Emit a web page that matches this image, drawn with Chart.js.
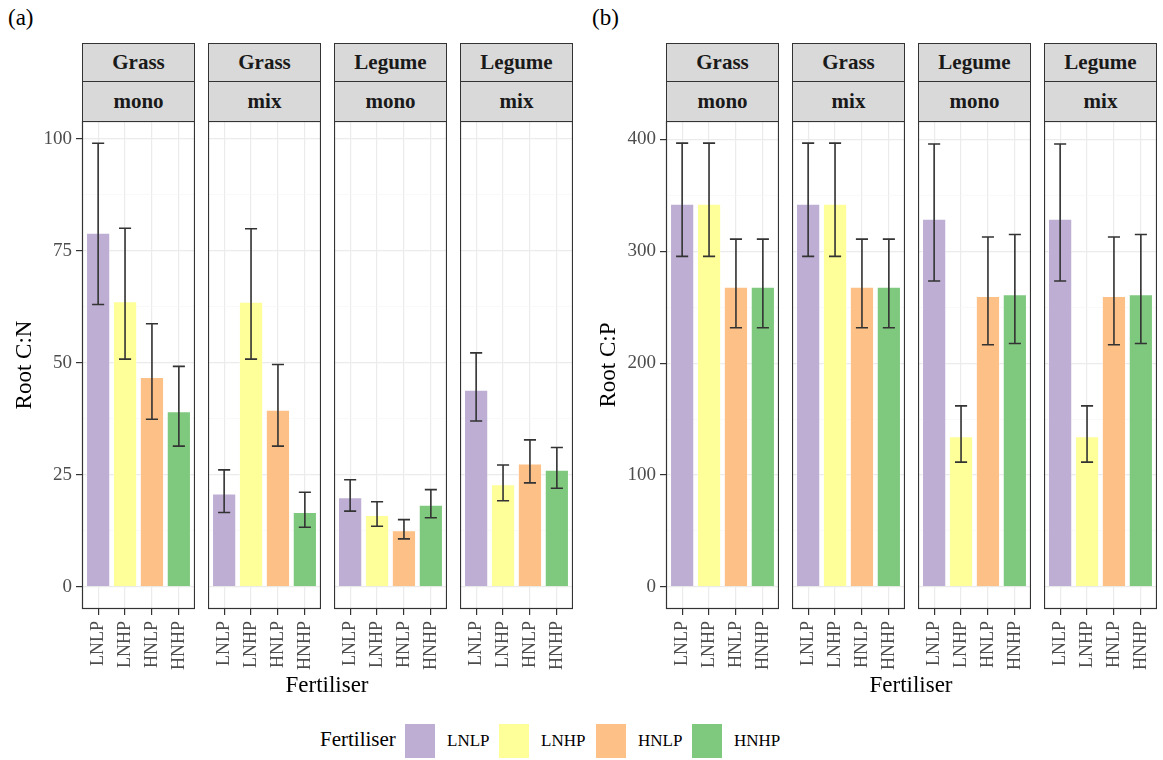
<!DOCTYPE html>
<html>
<head>
<meta charset="utf-8">
<title>Root C:N and C:P by fertiliser</title>
<script src="https://cdn.jsdelivr.net/npm/chart.js@4.4.1/dist/chart.umd.min.js"></script>
<style>
    body { margin: 0; background: #fff; font-family: 'Liberation Serif', 'Times New Roman', serif; }
    #page { position: relative; width: 1163px; height: 760px; overflow: hidden; }
    .strip { position: absolute; box-sizing: border-box; background: #d9d9d9; border: 1px solid #333;
             font-family: 'Liberation Serif', serif; font-weight: bold; font-size: 21px; color: #1a1a1a; text-align: center; }
    .facet { position: absolute; }
    .label { position: absolute; color: #000; white-space: nowrap; }
    .ytitle { position: absolute; width: 200px; text-align: center; font-size: 23px; transform: rotate(-90deg); }
    .key { position: absolute; width: 30px; height: 34px; }
</style>
</head>
<body>
<div id="page"></div>
<script>
// Fertiliser levels (x categories) and facet strips
const fertiliser = ['LNLP', 'LNHP', 'HNLP', 'HNHP'];
const fertColours = ['#BEAED4', '#FFFF99', '#FDC086', '#7FC97F'];
const stripSpecies = ['Grass', 'Grass', 'Legume', 'Legume'];
const stripCulture = ['mono', 'mix', 'mono', 'mix'];

// Root C:N - means and error bar limits per facet
const cnGrassMono = [79.0, 63.7, 46.8, 39.2];
const cnGrassMonoLo = [63.0, 50.8, 37.4, 31.4];
const cnGrassMonoHi = [99.0, 80.0, 58.7, 49.2];
const cnGrassMix = [20.8, 63.6, 39.5, 16.7];
const cnGrassMixLo = [16.6, 50.8, 31.4, 13.3];
const cnGrassMixHi = [26.1, 79.9, 49.6, 21.1];
const cnLegumeMono = [20.0, 16.0, 12.6, 18.3];
const cnLegumeMonoLo = [16.9, 13.5, 10.7, 15.4];
const cnLegumeMonoHi = [23.9, 19.0, 15.0, 21.7];
const cnLegumeMix = [44.0, 22.9, 27.5, 26.1];
const cnLegumeMixLo = [37.0, 19.2, 23.2, 22.0];
const cnLegumeMixHi = [52.2, 27.2, 32.8, 31.1];

// Root C:P - means and error bar limits per facet
const cpGrassMono = [342.5, 342.5, 268.2, 268.2];
const cpGrassMonoLo = [295.5, 295.5, 231.6, 231.6];
const cpGrassMonoHi = [396.7, 396.7, 310.9, 310.9];
const cpGrassMix = [342.5, 342.5, 268.2, 268.2];
const cpGrassMixLo = [295.5, 295.5, 231.6, 231.6];
const cpGrassMixHi = [396.7, 396.7, 310.9, 310.9];
const cpLegumeMono = [329.0, 134.6, 260.0, 261.5];
const cpLegumeMonoLo = [273.5, 111.5, 216.5, 217.5];
const cpLegumeMonoHi = [396.0, 161.8, 312.8, 315.0];
const cpLegumeMix = [329.0, 134.6, 260.0, 261.5];
const cpLegumeMixLo = [273.5, 111.5, 216.5, 217.5];
const cpLegumeMixHi = [396.0, 161.8, 312.8, 315.0];

// Axis ticks (major labelled, minor only as grid lines)
const cnMajorTicks = [0, 25, 50, 75, 100];
const cnMinorTicks = [12.5, 37.5, 62.5, 87.5];
const cpMajorTicks = [0, 100, 200, 300, 400];
const cpMinorTicks = [50, 150, 250, 350];

Chart.defaults.font.family = "'Liberation Serif', 'Times New Roman', serif";
Chart.defaults.animation = false;

// Draws the error bars from plugin options
const errorBars = {
    id: 'errorBars',
    afterDatasetsDraw(chart, args, opts) {
        const meta = chart.getDatasetMeta(0);
        const y = chart.scales.y;
        const ctx = chart.ctx;
        ctx.save();
        ctx.strokeStyle = '#333';
        ctx.lineWidth = 1.6;
        meta.data.forEach((bar, i) => {
            const top = y.getPixelForValue(opts.hi[i]);
            const bottom = y.getPixelForValue(opts.lo[i]);
            const half = bar.width * 0.25;
            ctx.beginPath();
            ctx.moveTo(bar.x, top);
            ctx.lineTo(bar.x, bottom);
            ctx.moveTo(bar.x - half, top);
            ctx.lineTo(bar.x + half, top);
            ctx.moveTo(bar.x - half, bottom);
            ctx.lineTo(bar.x + half, bottom);
            ctx.stroke();
        });
        ctx.restore();
    }
};

// Panel border like theme_bw
const panelBorder = {
    id: 'panelBorder',
    afterDraw(chart) {
        const a = chart.chartArea;
        const ctx = chart.ctx;
        ctx.save();
        ctx.strokeStyle = '#333';
        ctx.lineWidth = 1.2;
        ctx.strokeRect(a.left + 0.5, a.top + 0.5, a.right - a.left - 1, a.bottom - a.top - 1);
        ctx.restore();
    }
};

const page = document.getElementById('page');
const plotTop = 121;
const plotHeight = 488;
const facetWidth = 113;
const xAxisHeight = 70;
const yAxisWidth = 60;

function addDiv(cls, css, text) {
    const d = document.createElement('div');
    d.className = cls;
    Object.assign(d.style, css);
    if (text !== undefined) d.textContent = text;
    page.appendChild(d);
    return d;
}

function buildFacet(left, index, means, lo, hi, yMin, yMax, majors, minors) {
    const first = index === 0;

    // strips
    addDiv('strip', { left: left + 'px', top: '43px', width: facetWidth + 'px', height: '39px', lineHeight: '37px' }, stripSpecies[index]);
    addDiv('strip', { left: left + 'px', top: '81px', width: facetWidth + 'px', height: '40px', lineHeight: '38px', borderBottom: 'none' }, stripCulture[index]);

    const canvasLeft = first ? left - yAxisWidth : left;
    const canvasWidth = first ? facetWidth + yAxisWidth : facetWidth;
    const holder = addDiv('facet', { left: canvasLeft + 'px', top: plotTop + 'px', width: canvasWidth + 'px', height: (plotHeight + xAxisHeight) + 'px' });
    const canvas = document.createElement('canvas');
    canvas.width = canvasWidth;
    canvas.height = plotHeight + xAxisHeight;
    holder.appendChild(canvas);

    const yTicks = majors.concat(minors).sort((a, b) => a - b);

    new Chart(canvas, {
        type: 'bar',
        data: {
            datasets: [{
                data: means.map((v, i) => ({ x: i, y: v })),
                backgroundColor: fertColours,
                borderColor: 'rgba(255,255,255,0.45)',
                borderWidth: 1,
                barPercentage: 0.9,
                categoryPercentage: 1
            }]
        },
        options: {
            responsive: false,
            devicePixelRatio: 1,
            layout: { padding: 0 },
            plugins: {
                legend: { display: false },
                tooltip: { enabled: false },
                errorBars: { lo: lo, hi: hi }
            },
            scales: {
                x: {
                    type: 'linear',
                    min: -0.6,
                    max: 3.6,
                    bounds: 'data',
                    offset: false,
                    afterBuildTicks: s => { s.ticks = fertiliser.map((_, i) => ({ value: i })); },
                    afterFit: s => { s.height = xAxisHeight; s.paddingLeft = 0; s.paddingRight = 0; },
                    ticks: {
                        autoSkip: false,
                        minRotation: 90,
                        maxRotation: 90,
                        padding: 6,
                        color: '#4d4d4d',
                        font: { size: 18 },
                        callback: v => fertiliser[v]
                    },
                    grid: { offset: false, color: '#ebebeb', lineWidth: 1.2, tickLength: 6, tickColor: '#333', tickWidth: 1.2 },
                    border: { display: false }
                },
                y: {
                    min: yMin,
                    max: yMax,
                    afterBuildTicks: s => { s.ticks = yTicks.map(v => ({ value: v })); },
                    afterFit: s => { s.width = first ? yAxisWidth : 0; s.paddingTop = 0; s.paddingBottom = 0; },
                    ticks: {
                        display: first,
                        autoSkip: false,
                        padding: 4,
                        color: '#4d4d4d',
                        font: { size: 19 },
                        callback: v => majors.includes(v) ? String(v) : ''
                    },
                    grid: {
                        drawTicks: first,
                        tickLength: 6,
                        tickWidth: 1.2,
                        color: c => majors.includes(c.tick.value) ? '#ebebeb' : '#f5f5f5',
                        lineWidth: c => majors.includes(c.tick.value) ? 1.2 : 0.6,
                        tickColor: c => majors.includes(c.tick.value) ? '#333' : 'rgba(0,0,0,0)'
                    },
                    border: { display: false }
                }
            }
        },
        plugins: [errorBars, panelBorder]
    });
}

// Panel (a): Root C:N
const cnMeans = [cnGrassMono, cnGrassMix, cnLegumeMono, cnLegumeMix];
const cnLo = [cnGrassMonoLo, cnGrassMixLo, cnLegumeMonoLo, cnLegumeMixLo];
const cnHi = [cnGrassMonoHi, cnGrassMixHi, cnLegumeMonoHi, cnLegumeMixHi];
const leftA = [82, 208, 334, 460];
leftA.forEach((x, i) => buildFacet(x, i, cnMeans[i], cnLo[i], cnHi[i], -4.95, 103.95, cnMajorTicks, cnMinorTicks));

// Panel (b): Root C:P
const cpMeans = [cpGrassMono, cpGrassMix, cpLegumeMono, cpLegumeMix];
const cpLo = [cpGrassMonoLo, cpGrassMixLo, cpLegumeMonoLo, cpLegumeMixLo];
const cpHi = [cpGrassMonoHi, cpGrassMixHi, cpLegumeMonoHi, cpLegumeMixHi];
const leftB = [666, 792, 918, 1044];
leftB.forEach((x, i) => buildFacet(x, i, cpMeans[i], cpLo[i], cpHi[i], -19.84, 416.5, cpMajorTicks, cpMinorTicks));

// Panel tags and axis titles
addDiv('label', { left: '8px', top: '5px', fontSize: '23px' }, '(a)');
addDiv('label', { left: '592px', top: '5px', fontSize: '23px' }, '(b)');
addDiv('ytitle', { left: '-76px', top: '352px' }, 'Root C:N');
addDiv('ytitle', { left: '508px', top: '352px' }, 'Root C:P');
addDiv('label', { left: '227px', top: '672px', width: '200px', textAlign: 'center', fontSize: '23px' }, 'Fertiliser');
addDiv('label', { left: '811px', top: '672px', width: '200px', textAlign: 'center', fontSize: '23px' }, 'Fertiliser');

// Legend
addDiv('label', { left: '320px', top: '727px', fontSize: '21px' }, 'Fertiliser');
const keyLefts = [405, 499, 596, 692];
fertiliser.forEach((f, i) => {
    addDiv('key', { left: keyLefts[i] + 'px', top: '724px', background: fertColours[i] });
    addDiv('label', { left: (keyLefts[i] + 42) + 'px', top: '731px', fontSize: '17px' }, f);
});
</script>
</body>
</html>
